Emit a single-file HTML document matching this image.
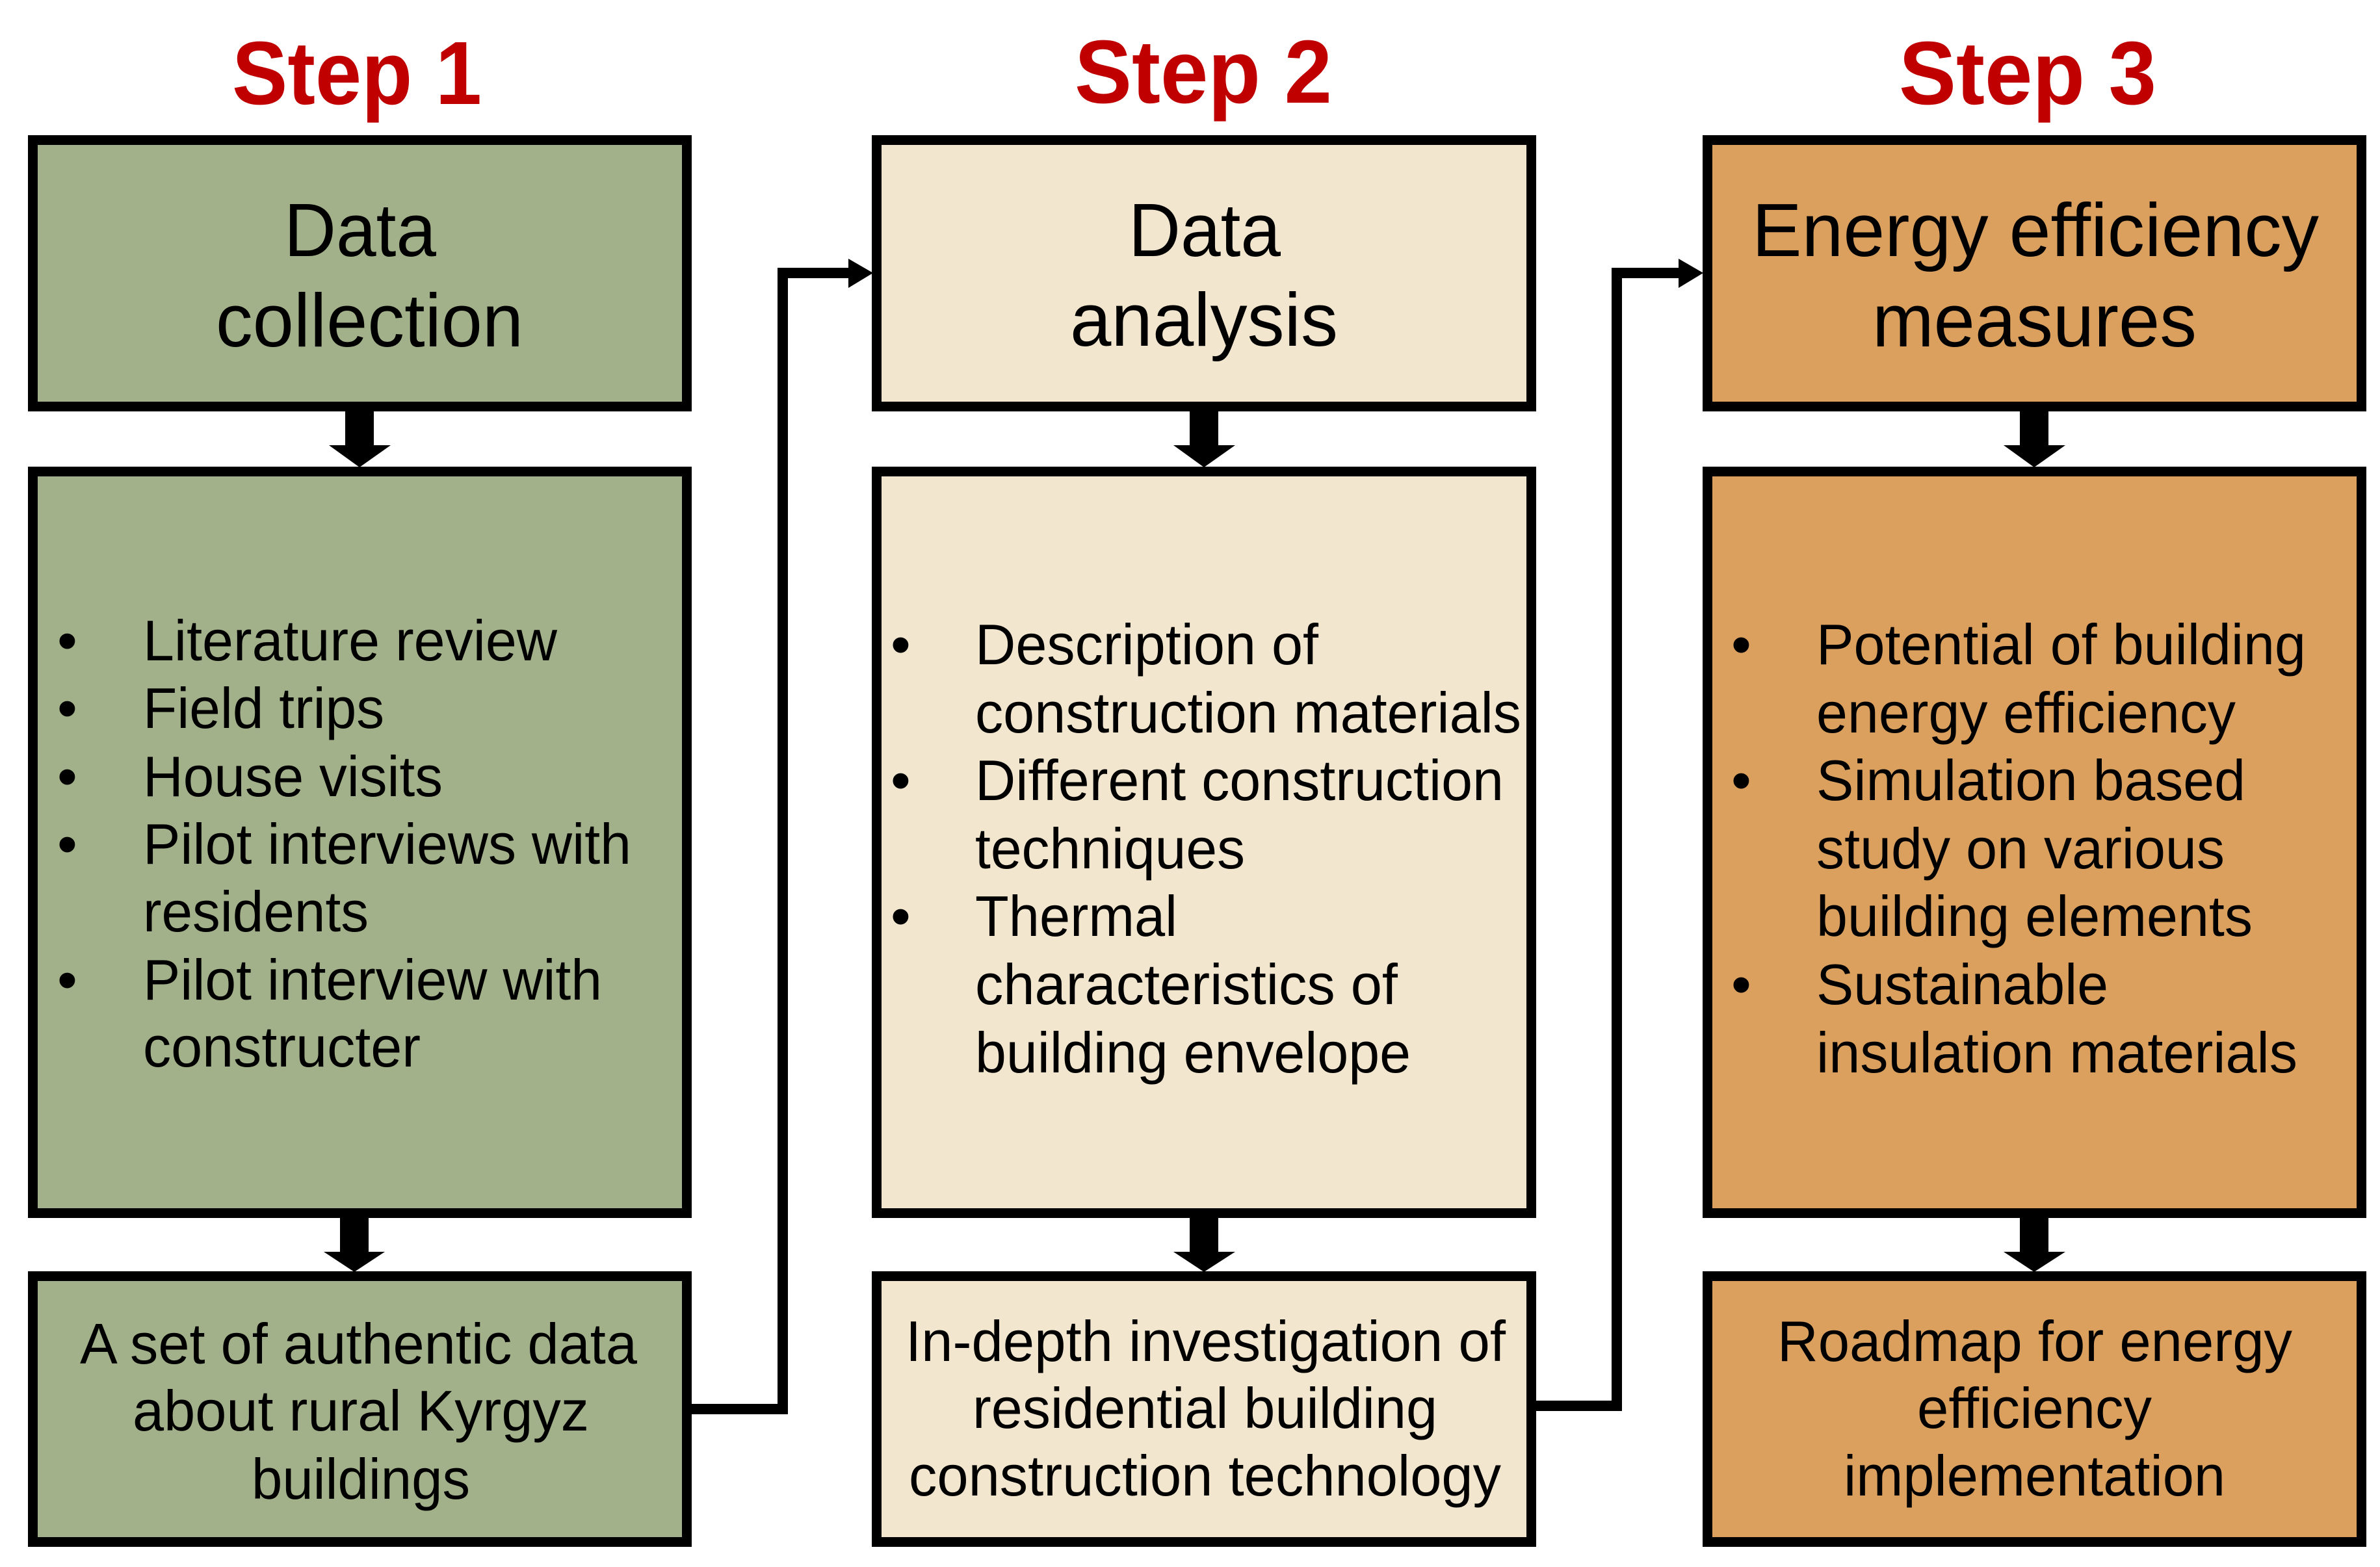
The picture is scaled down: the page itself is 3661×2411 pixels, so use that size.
<!DOCTYPE html>
<html><head><meta charset="utf-8"><style>
html,body{margin:0;padding:0;background:#fff;}
svg{display:block;}
text{font-family:"Liberation Sans",Arial,sans-serif;fill:#000;}
.st{font-weight:bold;font-size:138px;fill:#c00000;}
.h{font-size:116px;}
.b{font-size:88px;}
</style></head><body>
<svg width="3661" height="2411" viewBox="0 0 3661 2411" xmlns="http://www.w3.org/2000/svg">
<!-- Step titles -->
<text class="st" x="357" y="160" textLength="384" lengthAdjust="spacingAndGlyphs">Step 1</text>
<text class="st" x="1653" y="158" textLength="396" lengthAdjust="spacingAndGlyphs">Step 2</text>
<text class="st" x="2921" y="160" textLength="396" lengthAdjust="spacingAndGlyphs">Step 3</text>

<!-- Boxes -->
<g stroke="#000" stroke-width="15">
<rect x="50.5" y="215.5" width="1006" height="410" fill="#a3b18a"/>
<rect x="50.5" y="725.5" width="1006" height="1141" fill="#a3b18a"/>
<rect x="50.5" y="1963.5" width="1006" height="409" fill="#a3b18a"/>
<rect x="1348.5" y="215.5" width="1007" height="410" fill="#f2e6cf"/>
<rect x="1348.5" y="725.5" width="1007" height="1141" fill="#f2e6cf"/>
<rect x="1348.5" y="1963.5" width="1007" height="409" fill="#f2e6cf"/>
<rect x="2626.5" y="215.5" width="1006" height="410" fill="#dba05e"/>
<rect x="2626.5" y="725.5" width="1006" height="1141" fill="#dba05e"/>
<rect x="2626.5" y="1963.5" width="1006" height="409" fill="#dba05e"/>
</g>

<!-- Down arrows -->
<g fill="#000">
<rect x="531" y="633" width="44" height="53"/><polygon points="506,685 601,685 553,719"/>
<rect x="523" y="1874" width="44" height="53"/><polygon points="498,1926 592,1926 545,1957"/>
<rect x="1830" y="633" width="44" height="53"/><polygon points="1805,685 1900,685 1852,719"/>
<rect x="1830" y="1874" width="44" height="53"/><polygon points="1805,1926 1900,1926 1852,1957"/>
<rect x="3107" y="633" width="44" height="53"/><polygon points="3082,685 3177,685 3129,719"/>
<rect x="3107" y="1874" width="44" height="53"/><polygon points="3082,1926 3177,1926 3129,1957"/>
</g>

<!-- Connectors -->
<g fill="none" stroke="#000" stroke-width="16">
<polyline points="1064,2168 1204,2168 1204,420 1308,420"/>
<polyline points="2362,2163 2487,2163 2487,420 2585,420"/>
</g>
<g fill="#000">
<polygon points="1305,398 1343,420 1305,443"/>
<polygon points="2582,398 2620,420 2582,443"/>
</g>

<!-- Headings -->
<text class="h" x="437" y="394" textLength="234" lengthAdjust="spacingAndGlyphs">Data</text>
<text class="h" x="332" y="533" textLength="473" lengthAdjust="spacingAndGlyphs">collection</text>
<text class="h" x="1736" y="394" textLength="234" lengthAdjust="spacingAndGlyphs">Data</text>
<text class="h" x="1646" y="532" textLength="412" lengthAdjust="spacingAndGlyphs">analysis</text>
<text class="h" x="2695" y="394" textLength="872" lengthAdjust="spacingAndGlyphs">Energy efficiency</text>
<text class="h" x="2880" y="533" textLength="499" lengthAdjust="spacingAndGlyphs">measures</text>

<!-- Col1 bullets -->
<g class="b">
<text class="b" x="88" y="1016">•</text>
<text class="b" x="88" y="1120">•</text>
<text class="b" x="88" y="1225">•</text>
<text class="b" x="88" y="1329">•</text>
<text class="b" x="88" y="1538">•</text>
</g>
<text class="b" x="220" y="1016" textLength="637" lengthAdjust="spacingAndGlyphs">Literature review</text>
<text class="b" x="220" y="1120" textLength="371" lengthAdjust="spacingAndGlyphs">Field trips</text>
<text class="b" x="220" y="1225" textLength="461" lengthAdjust="spacingAndGlyphs">House visits</text>
<text class="b" x="220" y="1329" textLength="751" lengthAdjust="spacingAndGlyphs">Pilot interviews with</text>
<text class="b" x="220" y="1433" textLength="347" lengthAdjust="spacingAndGlyphs">residents</text>
<text class="b" x="220" y="1538" textLength="706" lengthAdjust="spacingAndGlyphs">Pilot interview with</text>
<text class="b" x="220" y="1641" textLength="427" lengthAdjust="spacingAndGlyphs">constructer</text>

<!-- Col2 bullets -->
<text class="b" x="1370" y="1022">•</text>
<text class="b" x="1370" y="1231">•</text>
<text class="b" x="1370" y="1440">•</text>
<text class="b" x="1500" y="1022" textLength="528" lengthAdjust="spacingAndGlyphs">Description of</text>
<text class="b" x="1500" y="1127" textLength="840" lengthAdjust="spacingAndGlyphs">construction materials</text>
<text class="b" x="1500" y="1231" textLength="813" lengthAdjust="spacingAndGlyphs">Different construction</text>
<text class="b" x="1500" y="1336" textLength="415" lengthAdjust="spacingAndGlyphs">techniques</text>
<text class="b" x="1500" y="1440" textLength="311" lengthAdjust="spacingAndGlyphs">Thermal</text>
<text class="b" x="1500" y="1545" textLength="650" lengthAdjust="spacingAndGlyphs">characteristics of</text>
<text class="b" x="1500" y="1650" textLength="670" lengthAdjust="spacingAndGlyphs">building envelope</text>

<!-- Col3 bullets -->
<text class="b" x="2663" y="1022">•</text>
<text class="b" x="2663" y="1231">•</text>
<text class="b" x="2663" y="1545">•</text>
<text class="b" x="2794" y="1022" textLength="753" lengthAdjust="spacingAndGlyphs">Potential of building</text>
<text class="b" x="2794" y="1127" textLength="645" lengthAdjust="spacingAndGlyphs">energy efficiency</text>
<text class="b" x="2794" y="1231" textLength="660" lengthAdjust="spacingAndGlyphs">Simulation based</text>
<text class="b" x="2794" y="1336" textLength="628" lengthAdjust="spacingAndGlyphs">study on various</text>
<text class="b" x="2794" y="1440" textLength="671" lengthAdjust="spacingAndGlyphs">building elements</text>
<text class="b" x="2794" y="1545" textLength="449" lengthAdjust="spacingAndGlyphs">Sustainable</text>
<text class="b" x="2794" y="1650" textLength="740" lengthAdjust="spacingAndGlyphs">insulation materials</text>

<!-- Bottom row texts -->
<text class="b" x="123" y="2098" textLength="857" lengthAdjust="spacingAndGlyphs">A set of authentic data</text>
<text class="b" x="204" y="2201" textLength="702" lengthAdjust="spacingAndGlyphs">about rural Kyrgyz</text>
<text class="b" x="387" y="2306" textLength="336" lengthAdjust="spacingAndGlyphs">buildings</text>

<text class="b" x="1393" y="2094" textLength="923" lengthAdjust="spacingAndGlyphs">In-depth investigation of</text>
<text class="b" x="1496" y="2197" textLength="715" lengthAdjust="spacingAndGlyphs">residential building</text>
<text class="b" x="1398" y="2301" textLength="911" lengthAdjust="spacingAndGlyphs">construction technology</text>

<text class="b" x="2734" y="2094" textLength="792" lengthAdjust="spacingAndGlyphs">Roadmap for energy</text>
<text class="b" x="2949" y="2197" textLength="361" lengthAdjust="spacingAndGlyphs">efficiency</text>
<text class="b" x="2836" y="2301" textLength="587" lengthAdjust="spacingAndGlyphs">implementation</text>
</svg>
</body></html>
